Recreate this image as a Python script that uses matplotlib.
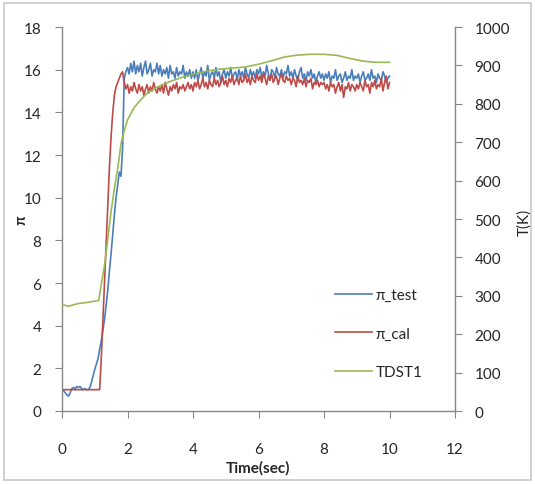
import numpy as np
import matplotlib
matplotlib.use('Agg')
import matplotlib.pyplot as plt
from matplotlib.patches import Rectangle

plt.rcParams['font.family'] = ['Lato', 'DejaVu Sans']

# sampled every 0.05 s from 0 to 10 s
time = np.round(np.arange(0, 10.001, 0.05), 2)

pi_test = [
    1.0, 0.95, 0.85, 0.75, 0.7, 0.85, 1.05, 1.1, 1.05, 1.15, 1.1, 1.15, 1.05, 1.0, 1.05, 1.0, 1.0, 1.1, 1.35, 1.65,
    1.95, 2.2, 2.45, 2.9, 3.3, 3.8, 4.3, 5.0, 5.7, 6.6, 7.4, 8.3, 9.2, 10.0, 10.6, 11.2, 11.0, 12.3, 15.6, 15.9,
    16.1, 15.8, 16.3, 15.9, 16.4, 15.8, 16.2, 15.9, 16.3, 15.7, 16.1, 16.4, 15.8, 16.0, 16.3, 15.7, 16.0, 15.9, 16.3, 15.8,
    16.2, 15.7, 16.0, 15.8, 16.1, 15.6, 16.2, 15.8, 15.9, 15.6, 16.1, 15.7, 15.9, 15.8, 16.2, 15.6, 15.9, 15.7, 16.0, 15.6,
    15.9, 15.6, 16.0, 15.5, 15.8, 16.1, 15.6, 15.9, 15.7, 16.2, 15.5, 15.8, 15.9, 15.6, 16.1, 15.7, 15.9, 15.4, 15.8, 16.0,
    15.6, 15.9, 15.7, 16.1, 15.6, 15.8, 15.9, 15.5, 16.0, 15.7, 15.9, 15.6, 16.1, 15.8, 15.6, 16.0, 15.7, 15.9, 15.6, 16.0,
    15.8, 16.1, 15.6, 15.9, 15.7, 16.2, 15.8, 15.5, 16.0, 15.9, 15.6, 16.1, 15.8, 15.7, 16.0, 15.6, 15.9, 15.8, 16.2, 15.7,
    15.9, 15.6, 16.0, 15.7, 15.5, 15.9, 16.1, 15.6, 15.8, 15.5, 15.9, 15.7, 16.0, 15.6, 15.8, 15.4, 15.7, 15.9, 15.6, 15.8,
    15.5, 15.8, 15.6, 15.9, 15.4, 15.7, 15.6, 16.0, 15.5, 15.7, 15.8, 15.4, 15.6, 15.9, 15.5, 15.7, 15.6, 16.0, 15.5, 15.7,
    15.6, 15.8, 15.4, 15.7, 15.9, 15.5, 15.6, 15.8, 15.5, 16.0, 15.6, 15.7, 15.4, 15.8, 15.6, 15.5, 15.9, 15.7, 15.4, 15.6,
    15.7,
]

pi_cal = [
    1.0, 1.0, 1.0, 1.0, 1.0, 1.0, 1.0, 1.0, 1.0, 1.0, 1.0, 1.0, 1.0, 1.0, 1.0, 1.0, 1.0, 1.0, 1.0, 1.0,
    1.0, 1.0, 1.0, 1.0, 2.5, 4.3, 6.2, 8.0, 9.8, 11.5, 12.9, 14.0, 14.8, 15.2, 15.4, 15.6, 15.8, 15.9, 15.4, 15.1,
    15.3, 14.9, 15.2, 15.0, 15.4, 15.1, 14.9, 15.3, 15.0, 15.2, 14.8, 15.1, 15.3, 14.9, 15.2, 15.0, 15.4, 15.1, 14.9, 15.2,
    15.0, 15.3, 14.9, 15.4, 15.1, 14.8, 15.2, 15.0, 15.3, 15.1, 15.4, 14.9, 15.2, 15.1, 15.3, 15.0, 15.2, 15.4, 15.1, 15.3,
    15.0, 15.4, 15.2, 15.5, 15.1, 15.3, 15.6, 15.2, 15.4, 15.1, 15.5, 15.3, 15.2, 15.6, 15.3, 15.5, 15.2, 15.4, 15.7, 15.3,
    15.5, 15.2, 15.6, 15.4, 15.7, 15.3, 15.5, 15.6, 15.3, 15.7, 15.4, 15.5, 15.8, 15.4, 15.6, 15.3, 15.7, 15.5, 15.4, 15.8,
    15.5, 15.7, 15.4, 15.8, 15.6, 15.3, 15.7, 15.5, 15.8, 15.4, 15.6, 15.7, 15.3, 15.6, 15.8, 15.5, 15.4, 15.7, 15.5, 15.6,
    15.3, 15.6, 15.5, 15.2, 15.7, 15.4, 15.5, 15.3, 15.6, 15.2, 15.5, 15.4, 15.6, 15.1, 15.4, 15.3, 15.5, 15.2, 15.4, 15.3,
    15.4, 15.1, 15.3, 15.0, 15.4, 15.2, 15.3, 14.9, 15.2, 15.4, 15.0, 15.3, 14.7, 15.2, 15.1, 15.4, 15.0, 15.3, 15.2, 15.0,
    15.3, 15.1, 15.4, 15.2, 15.0, 15.5, 15.2, 15.3, 14.9, 15.4, 15.2, 15.5, 15.1, 15.3, 15.2, 15.6, 15.0, 15.4, 15.7, 15.1,
    15.4,
]

# TDST1 temperature (right axis)
time_T = [0, 0.2, 0.5, 0.8, 1.12, 1.2, 1.3, 1.4, 1.5, 1.6, 1.7, 1.8, 1.9, 2.0, 2.2, 2.4, 2.6, 2.8, 3.0, 3.3,
          3.6, 4.0, 4.4, 4.8, 5.2, 5.6, 6.0, 6.4, 6.8, 7.2, 7.6, 8.0, 8.4, 8.8, 9.2, 9.6, 10.0]
tdst1 = [277, 273, 280, 283, 288, 330, 380, 450, 520, 580, 630, 695, 730, 758, 790, 810, 828, 838, 847, 858,
         867, 877, 885, 890, 893, 896, 903, 912, 922, 927, 929, 929, 926, 918, 911, 908, 908]

blue = '#4a7ebb'
red = '#be4b48'
green = '#98b954'
spine_col = '#868686'
txt_col = '#262626'

fig = plt.figure(figsize=(5.35, 4.85), dpi=100)
fig.patches.append(Rectangle((0.008, 0.008), 0.984, 0.984, transform=fig.transFigure,
                             fill=False, edgecolor='#c8c8c8', linewidth=1.2))

ax = fig.add_axes([62 / 535, 1 - 412 / 485, (455 - 62) / 535, (412 - 28) / 485])
ax2 = ax.twinx()

l1, = ax.plot(time, pi_test, color=blue, lw=1.2, label='π_test')
l2, = ax.plot(time, pi_cal, color=red, lw=1.2, label='π_cal')
l3, = ax2.plot(time_T, tdst1, color=green, lw=1.2, label='TDST1')

ax.set_xlim(0, 12)
ax.set_ylim(0, 18)
ax2.set_ylim(0, 1000)
ax.set_xticks(range(0, 13, 2))
ax.set_yticks(range(0, 19, 2))
ax2.set_yticks(range(0, 1001, 100))

for a in (ax, ax2):
    a.spines['top'].set_visible(False)
    for s in ('left', 'right', 'bottom'):
        a.spines[s].set_color(spine_col)
        a.spines[s].set_linewidth(1.0)
ax.spines['right'].set_visible(False)
ax2.spines['left'].set_visible(False)
ax2.spines['bottom'].set_visible(False)

ax.tick_params(axis='y', direction='out', length=5, color=spine_col, labelsize=11, labelcolor=txt_col, pad=10)
ax.tick_params(axis='x', direction='out', length=5, color=spine_col, labelsize=11, labelcolor=txt_col, pad=17)
ax2.tick_params(axis='y', direction='out', length=5, color=spine_col, labelsize=11, labelcolor=txt_col, pad=9)

fig.text(258 / 535, 1 - 468 / 485, 'Time(sec)', ha='center', va='center', fontsize=11,
         fontweight='bold', color=txt_col)
fig.text(21 / 535, 1 - 220 / 485, 'π', ha='center', va='center', rotation=90, fontsize=11,
         fontweight='bold', color=txt_col)
fig.text(524 / 535, 1 - 222 / 485, 'T(K)', ha='center', va='center', rotation=90, fontsize=11,
         color=txt_col)

fig.legend(handles=[l1, l2, l3], loc='upper left', bbox_to_anchor=(335 / 535, 1 - 289 / 485),
           frameon=False, fontsize=11, handlelength=2.4, handletextpad=0.25,
           labelspacing=1.6, borderpad=0, borderaxespad=0, labelcolor=txt_col)

fig.savefig('out.png', dpi=100)
